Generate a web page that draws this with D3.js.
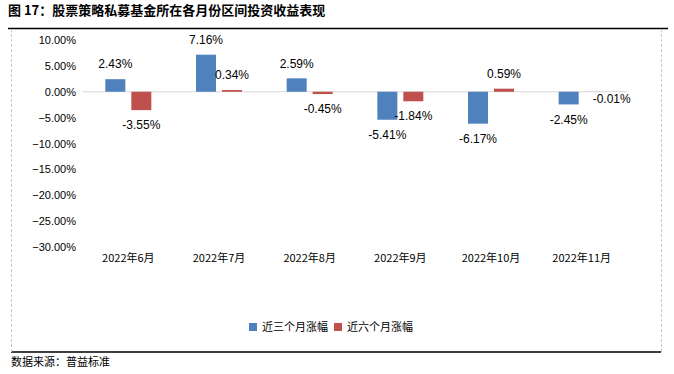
<!DOCTYPE html>
<html>
<head>
<meta charset="utf-8" />
<title>股票策略私募基金所在各月份区间投资收益表现</title>
<style>
html, body {
    margin: 0;
    padding: 0;
    background: #fff;
}
svg text {
    font-family: "Noto Sans CJK SC", "Liberation Sans", sans-serif;
    fill: #000;
}
</style>
</head>
<body>
<div id="chart"></div>
<script src="https://cdnjs.cloudflare.com/ajax/libs/d3/7.8.5/d3.min.js"></script>
<script>
var months = ["2022年6月", "2022年7月", "2022年8月", "2022年9月", "2022年10月", "2022年11月"]
var seriesNames = ["近三个月涨幅", "近六个月涨幅"]
var threeMonth = [2.43, 7.16, 2.59, -5.41, -6.17, -2.45]
var sixMonth = [-3.55, 0.34, -0.45, -1.84, 0.59, -0.01]
var yTicks = [10, 5, 0, -5, -10, -15, -20, -25, -30]
var colors = ["#4F81BD", "#C0504D"]

!(function(){
    "use strict"

    var width = 674, height = 374
    var svg = d3.select("#chart").append("svg")
        .attr("width", width).attr("height", height)

    // title + frame
    svg.append("text")
        .attr("x", 8).attr("y", 15)
        .style("font-size", "13px").style("font-weight", "bold")
        .text("图 17：股票策略私募基金所在各月份区间投资收益表现")

    svg.append("line").attr("x1", 8).attr("x2", 668).attr("y1", 28.5).attr("y2", 28.5)
        .attr("stroke", "#000").attr("stroke-width", 1.5)
    svg.append("line").attr("x1", 11).attr("x2", 661).attr("y1", 352).attr("y2", 352)
        .attr("stroke", "#000").attr("stroke-width", 1.5)
    ;[11.5, 661.5].forEach(function(x){
        svg.append("line").attr("x1", x).attr("x2", x).attr("y1", 29).attr("y2", 352)
            .attr("stroke", "#c8c8c8").attr("stroke-dasharray", "3,2")
    })

    svg.append("text")
        .attr("x", 11).attr("y", 366)
        .style("font-size", "11px")
        .text("数据来源：普益标准")

    // scales
    var x = d3.scaleBand().domain(months).range([83, 627])
    var y = d3.scaleLinear().domain([-30, 10]).range([247, 40])
    var barW = 20, gap = 6

    var yAxis = svg.append("g")
        .attr("transform", "translate(76,0)")
        .call(d3.axisLeft(y).tickValues(yTicks).tickSize(0).tickPadding(0)
            .tickFormat(function(d){ return d3.format(".2f")(d) + "%" }))
    yAxis.select(".domain").remove()
    yAxis.selectAll("text").style("font-size", "11px").attr("fill", "#000")
        .style("font-family", "\"Liberation Sans\", sans-serif")

    svg.append("line")
        .attr("x1", 83).attr("x2", 627)
        .attr("y1", y(0)).attr("y2", y(0))
        .attr("stroke", "#d9d9d9").attr("stroke-width", 1)

    var xAxis = svg.append("g")
        .attr("transform", "translate(0," + 258 + ")")
        .call(d3.axisBottom(x).tickSize(0).tickPadding(0))
    xAxis.select(".domain").remove()
    xAxis.selectAll("text").style("font-size", "11px").attr("fill", "#000")
        .attr("dy", "0.35em")

    var series = [threeMonth, sixMonth]
    series.forEach(function(vals, si){
        var g = svg.append("g")
        var data = months.map(function(m, i){ return {m: m, v: vals[i]} })
        var off = si === 0 ? -gap / 2 - barW : gap / 2

        g.selectAll("rect").data(data).enter().append("rect")
            .attr("x", function(d){ return x(d.m) + x.bandwidth() / 2 + off })
            .attr("width", barW)
            .attr("y", function(d){ return y(Math.max(0, d.v)) })
            .attr("height", function(d){ return Math.abs(y(d.v) - y(0)) })
            .attr("fill", colors[si])

        // tiny values: Excel pushes the label beside the bar
        g.selectAll("text").data(data).enter().append("text")
            .attr("x", function(d){
                var cx = x(d.m) + x.bandwidth() / 2 + off + barW / 2
                return Math.abs(d.v) < 0.1 ? cx + 17 : cx
            })
            .attr("y", function(d){
                if (Math.abs(d.v) < 0.1) return y(0) + 7
                return d.v >= 0 ? y(d.v) - 15 : y(d.v) + 15
            })
            .attr("dy", "0.35em")
            .attr("text-anchor", "middle")
            .style("font-size", "12px")
            .style("font-family", "\"Liberation Sans\", sans-serif")
            .text(function(d){ return d.v.toFixed(2) + "%" })
    })

    // legend
    var legend = svg.append("g").attr("transform", "translate(249,327)")
    var lx = 0
    seriesNames.forEach(function(name, i){
        legend.append("rect").attr("x", lx).attr("y", -4).attr("width", 8).attr("height", 8)
            .attr("fill", colors[i])
        var t = legend.append("text").attr("x", lx + 13).attr("y", 0).attr("dy", "0.35em")
            .style("font-size", "11px").text(name)
        lx += 13 + t.node().getComputedTextLength() + 6
    })
}());
</script>
</body>
</html>
